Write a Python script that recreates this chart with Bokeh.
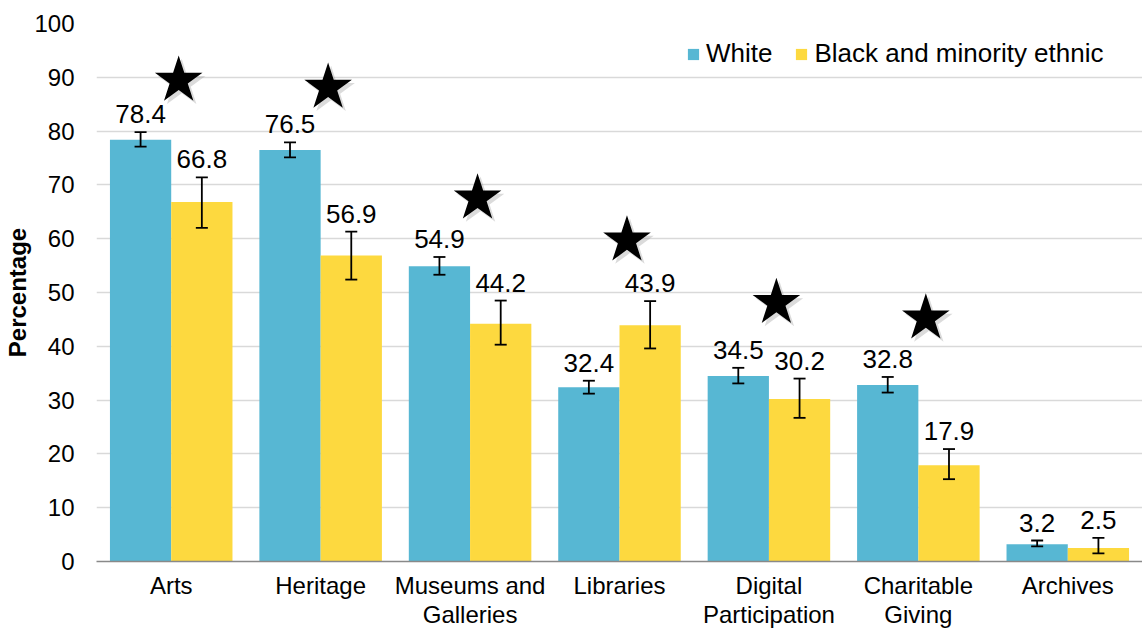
from bokeh.plotting import figure
from bokeh.models import ColumnDataSource, FactorRange, Whisker, TeeHead, Legend, LegendItem
from bokeh.transform import dodge
from bokeh.core.properties import value
from bokeh.embed import file_html
from bokeh.resources import INLINE

categories = ["Arts", "Heritage", "Museums and\nGalleries", "Libraries",
              "Digital\nParticipation", "Charitable\nGiving", "Archives"]
white = [78.4, 76.5, 54.9, 32.4, 34.5, 32.8, 3.2]
white_lo = [77.1, 75.1, 53.3, 31.2, 33.1, 31.4, 2.8]
white_hi = [79.8, 77.9, 56.6, 33.6, 36.0, 34.3, 3.9]
bme = [66.8, 56.9, 44.2, 43.9, 30.2, 17.9, 2.5]
bme_lo = [62.0, 52.4, 40.3, 39.6, 26.7, 15.3, 1.5]
bme_hi = [71.4, 61.3, 48.5, 48.4, 34.0, 20.9, 4.4]
star_cats = categories[:6]
star_y = [89.4, 88.1, 67.5, 59.7, 48.1, 45.2]
y_ticks = list(range(0, 101, 10))

WHITE_C = "#57B7D3"
BME_C = "#FDD93F"
FONT = "Liberation Sans"

src = ColumnDataSource(dict(
    cat=categories, white=white, wlo=white_lo, whi=white_hi,
    bme=bme, blo=bme_lo, bhi=bme_hi,
    wlab=[f"{v:.1f}" for v in white], blab=[f"{v:.1f}" for v in bme],
))
star_src = ColumnDataSource(dict(cat=star_cats, y=star_y))

p = figure(width=1142, height=630, x_range=FactorRange(*categories, range_padding=0),
           y_range=(0, 100), output_backend="svg", toolbar_location=None,
           min_border_left=96, min_border_right=0, min_border_top=23, min_border_bottom=69)
p.outline_line_color = None
p.background_fill_color = "white"

bw = 0.41
rw = p.vbar(x=dodge("cat", -0.205, range=p.x_range), top="white", width=bw, source=src,
            fill_color=WHITE_C, line_color=None)
rb = p.vbar(x=dodge("cat", 0.205, range=p.x_range), top="bme", width=bw, source=src,
            fill_color=BME_C, line_color=None)

for off, lo, hi in ((-0.205, "wlo", "whi"), (0.205, "blo", "bhi")):
    w = Whisker(base=dodge("cat", off, range=p.x_range), lower=lo, upper=hi, source=src,
                line_color="black", line_width=1.8, level="overlay",
                upper_head=TeeHead(size=12, line_color="black", line_width=1.8),
                lower_head=TeeHead(size=12, line_color="black", line_width=1.8))
    p.add_layout(w)

p.text(x=dodge("cat", -0.205, range=p.x_range), y="whi", text="wlab", source=src,
       text_align="center", text_baseline="bottom", y_offset=-9,
       text_font=value(FONT), text_font_size="26px", text_color="black")
p.text(x=dodge("cat", 0.205, range=p.x_range), y="bhi", text="blab", source=src,
       text_align="center", text_baseline="bottom", y_offset=-9,
       text_font=value(FONT), text_font_size="26px", text_color="black")

# stars with soft shadow
p.scatter(x=dodge("cat", 0.07, range=p.x_range), y=dodge("y", -0.6), source=star_src,
          marker="star", size=50, fill_color="#999999", fill_alpha=0.35, line_color=None)
p.scatter(x=dodge("cat", 0.05, range=p.x_range), y="y", source=star_src, marker="star",
          size=50, fill_color="black", line_color=None)

p.xgrid.grid_line_color = None
p.ygrid.grid_line_color = "#D9D9D9"
p.ygrid.grid_line_width = 1.5
p.yaxis.ticker = y_ticks
p.yaxis.axis_line_color = None
p.yaxis.major_tick_line_color = None
p.yaxis.major_tick_out = 0
p.yaxis.major_tick_in = 0
p.yaxis.minor_tick_line_color = None
p.yaxis.minor_tick_out = 0
p.yaxis.major_label_text_font = FONT
p.yaxis.major_label_text_font_size = "24px"
p.yaxis.major_label_text_color = "black"
p.yaxis.major_label_standoff = 22
p.yaxis.axis_label = "Percentage"
p.yaxis.axis_label_text_font = FONT
p.yaxis.axis_label_text_font_size = "24px"
p.yaxis.axis_label_text_font_style = "bold"
p.yaxis.axis_label_text_color = "black"
p.yaxis.axis_label_standoff = 0

p.xaxis.axis_line_color = "#898989"
p.xaxis.axis_line_width = 1.5
p.xaxis.major_tick_line_color = None
p.xaxis.major_tick_out = 0
p.xaxis.major_tick_in = 0
p.xaxis.minor_tick_line_color = None
p.xaxis.minor_tick_out = 0
p.xaxis.major_label_text_font = FONT
p.xaxis.major_label_text_font_size = "24px"
p.xaxis.major_label_text_line_height = 1.08
p.xaxis.major_label_text_color = "black"
p.xaxis.major_label_standoff = 10

legend = Legend(items=[LegendItem(label="White", renderers=[rw]),
                       LegendItem(label="Black and minority ethnic", renderers=[rb])],
                orientation="horizontal", location=(590, 492),
                label_text_font=FONT, label_text_font_size="26px", label_text_color="black",
                glyph_width=14, glyph_height=14, label_standoff=6, spacing=22,
                border_line_color=None, background_fill_alpha=0,
                margin=0, padding=6)
p.add_layout(legend)

open("out.html", "w").write(file_html(p, INLINE))
